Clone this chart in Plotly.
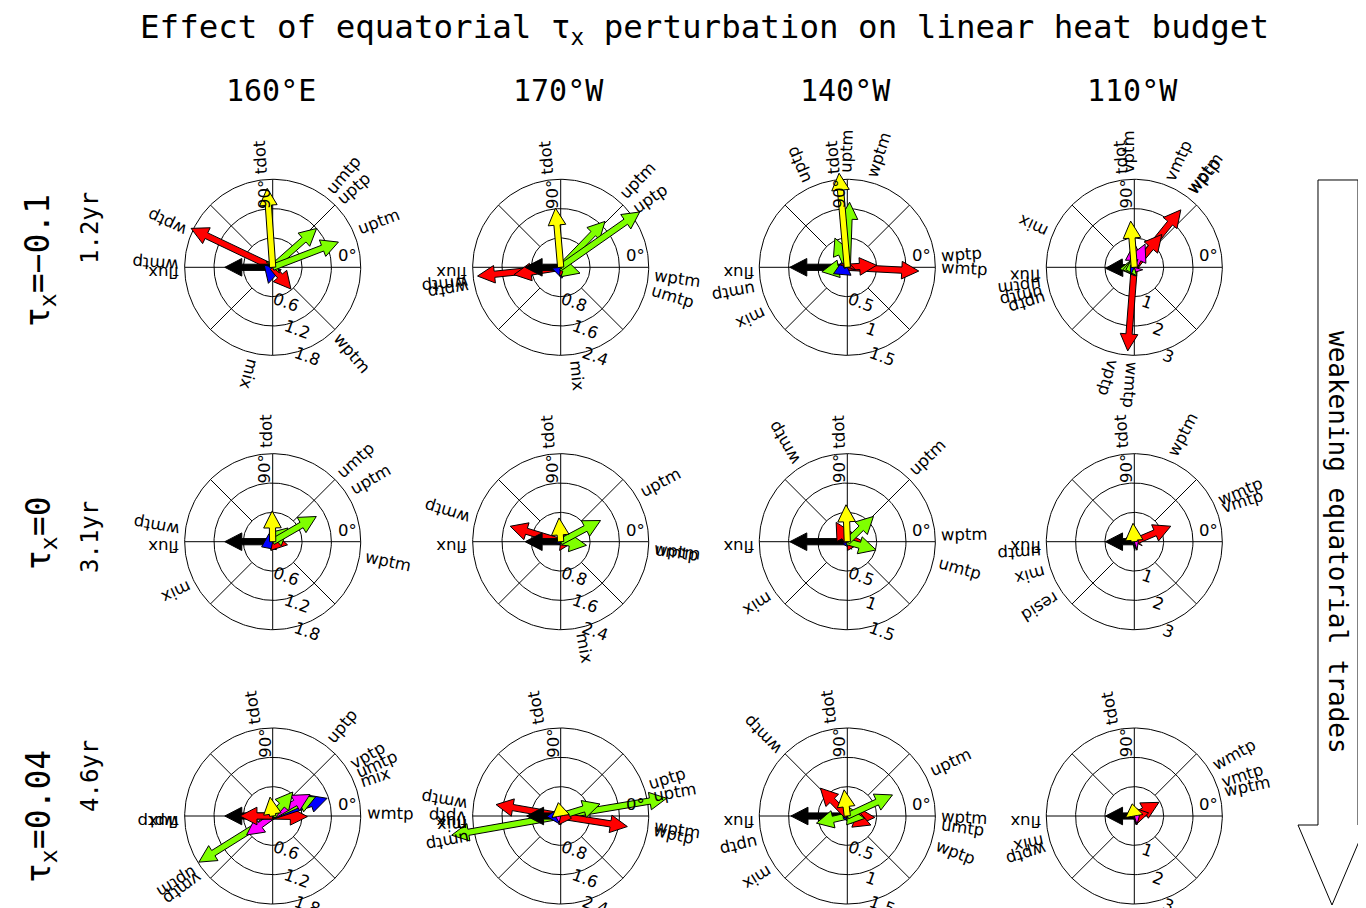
import numpy as np
import plotly.graph_objects as go

W, H = 1366, 908          # page size
OFF = 8                   # default body margin of the html page
FW, FH = W - OFF, H - OFF # figure size so that it ends at the page edge
FONT_BIG = "DejaVu Sans Mono"
FONT_LAB = "DejaVu Sans"

# ---------------- text ----------------
title_text = "Effect of equatorial τ<sub>x</sub> perturbation on linear heat budget"
col_labels = ["160°E", "170°W", "140°W", "110°W"]
row_tau = ["τ<sub>x</sub>=−0.1", "τ<sub>x</sub>=0", "τ<sub>x</sub>=0.04"]
row_period = ["1.2yr", "3.1yr", "4.6yr"]
side_text = "weakening equatorial trades"

# radial ticks per column (outer ring = last tick)
col_ticks = [[0.6, 1.2, 1.8], [0.8, 1.6, 2.4], [0.5, 1, 1.5], [1, 2, 3]]

# ---------------- data: (term, magnitude, angle in degrees) ----------------
r1c1 = [("wptp", 1.85, 154.5), ("flux", 0.98, 180), ("wmtp", 0.08, 176), ("mix", 0.34, 255),
        ("wptm", 0.58, 310), ("umtp", 0.10, 50), ("uptp", 1.20, 41.5), ("uptm", 1.44, 21),
        ("tdot", 1.62, 94)]
r1c2 = [("wmtp", 2.28, 186), ("wptp", 1.29, 189), ("flux", 0.97, 180), ("mix", 0.30, 276),
        ("wptm", 0.30, 352), ("umtp", 0.55, 343), ("uptm", 1.74, 46), ("uptp", 2.63, 35),
        ("tdot", 1.62, 95)]
r1c3 = [("wmtp", 1.22, 357), ("wptp", 0.50, 4), ("flux", 0.98, 180), ("umtp", 0.44, 190),
        ("mix", 0.26, 205), ("uptp", 0.54, 113), ("wptm", 0.08, 72), ("uptm", 1.11, 88),
        ("tdot", 1.61, 95)]
r1c4 = [("wmtp", 2.86, 265.5), ("wptm", 2.52, 51), ("wptp", 1.46, 50), ("vptm", 0.82, 90),
        ("vmtp", 0.87, 65), ("vptp", 0.20, 254), ("flux", 0.98, 182), ("uptm", 0.50, 187),
        ("umtp", 0.40, 192), ("uptp", 0.30, 196), ("mix", 0.15, 155), ("tdot", 1.58, 94.5)]
r2c1 = [("flux", 0.98, 180), ("wmtp", 0.10, 170), ("mix", 0.25, 205), ("wptm", 0.31, 348),
        ("umtp", 0.42, 42), ("uptm", 1.03, 30), ("tdot", 0.63, 91)]
r2c2 = [("wmtp", 1.44, 163), ("flux", 0.97, 180), ("mix", 0.06, 280), ("wptm", 0.30, 353),
        ("umtp", 0.71, 352), ("uptm", 1.23, 28), ("tdot", 0.65, 94)]
r2c3 = [("flux", 0.98, 180), ("mix", 0.08, 212), ("wmtp", 0.38, 120), ("wptm", 0.27, 1),
        ("umtp", 0.51, 344), ("uptm", 0.62, 44), ("tdot", 0.63, 92)]
r2c4 = [("flux", 0.98, 180), ("umtp", 0.06, 183), ("mix", 0.05, 195), ("resid", 0.0, 212),
        ("wptm", 0.10, 63), ("wmtp", 1.35, 23), ("vmtp", 0.15, 18), ("tdot", 0.63, 94)]
r3c1 = [("uptm", 1.78, 212), ("vmtp", 0.66, 216), ("flux", 0.98, 180), ("wptp", 0.67, 180),
        ("wmtp", 0.71, 359), ("mix", 1.17, 18), ("umtp", 0.96, 24), ("vptp", 0.88, 30),
        ("uptp", 0.64, 50), ("tdot", 0.39, 98)]
r3c2 = [("umtp", 3.02, 190), ("uptm", 2.93, 9.5), ("wptm", 1.84, 351), ("wmtp", 1.79, 170),
        ("uptp", 1.12, 17), ("flux", 0.93, 180), ("mix", 0.38, 182), ("vptp", 0.15, 178),
        ("wptp", 0.30, 348), ("tdot", 0.37, 100)]
r3c3 = [("flux", 0.96, 180), ("uptp", 0.54, 193), ("mix", 0.08, 212), ("wmtp", 0.66, 134),
        ("wptm", 0.47, 357), ("wptp", 0.43, 339), ("umtp", 0.30, 352), ("uptm", 0.85, 25),
        ("tdot", 0.45, 97)]
r3c4 = [("flux", 0.98, 180), ("mix", 0.05, 192), ("wptp", 0.05, 197), ("wmtp", 0.96, 29),
        ("wptm", 0.50, 12), ("vmtp", 0.20, 18), ("tdot", 0.42, 100)]

panels = [[r1c1, r1c2, r1c3, r1c4],
          [r2c1, r2c2, r2c3, r2c4],
          [r3c1, r3c2, r3c3, r3c4]]


def term_color(term):
    if term == "tdot":
        return "#FFFF00"
    if term == "flux":
        return "#000000"
    if term == "mix":
        return "#0000FF"
    if term.startswith("u"):
        return "#7FFF00"
    if term.startswith("w"):
        return "#FF0000"
    if term.startswith("v"):
        return "#FF00FF"
    return "#808080"


# DejaVu Sans advance widths (em) for label placement
CHW = {"t": 0.392, "d": 0.635, "o": 0.612, "u": 0.634, "p": 0.635, "m": 0.974, "w": 0.818,
       "v": 0.592, "f": 0.352, "l": 0.278, "x": 0.592, "i": 0.278, "r": 0.411, "e": 0.615,
       "s": 0.521}

# ---------------- layout geometry (page pixels) ----------------
col_cx = [272.7, 560.7, 847.3, 1134.3]
row_cy = [267.3, 541.7, 816.0]
RPX = 88.0      # outer ring radius in px
HALF = 143.0    # half size of each panel box in px
LFS = 16.5      # label font size


def fx(X):
    return (X - OFF) / FW


def fy(Y):
    return 1 - (Y - OFF) / FH


fig = go.Figure()
annotations = []
layout_axes = {}

k = 0
for i in range(3):
    for j in range(4):
        k += 1
        ticks = col_ticks[j]
        rmax = ticks[-1]
        s = RPX / rmax
        cx, cy = col_cx[j], row_cy[i]
        x0, x1 = max(OFF, cx - HALF), min(W, cx + HALF)
        y0, y1 = max(OFF, cy - HALF), min(H, cy + HALF)
        xn = "xaxis" if k == 1 else f"xaxis{k}"
        yn = "yaxis" if k == 1 else f"yaxis{k}"
        xr, yr = ("x", "y") if k == 1 else (f"x{k}", f"y{k}")
        layout_axes[xn] = dict(domain=[fx(x0), fx(x1)], range=[(x0 - cx) / s, (x1 - cx) / s],
                               visible=False, fixedrange=True, anchor=yr)
        layout_axes[yn] = dict(domain=[fy(y1), fy(y0)], range=[(cy - y1) / s, (cy - y0) / s],
                               visible=False, fixedrange=True, anchor=xr)

        # grid: rings, axes lines, diagonals
        t = np.linspace(0, 2 * np.pi, 241)
        gx, gy = [], []
        for r in ticks:
            gx += list(r * np.cos(t)) + [None]
            gy += list(r * np.sin(t)) + [None]
        gx += [-rmax, rmax, None, 0, 0, None]
        gy += [0, 0, None, -rmax, rmax, None]
        for a in (45, 135, 225, 315):
            ca, sa = np.cos(np.radians(a)), np.sin(np.radians(a))
            gx += [ticks[0] * ca, rmax * ca, None]
            gy += [ticks[0] * sa, rmax * sa, None]
        fig.add_trace(go.Scatter(x=gx, y=gy, mode="lines", line=dict(color="black", width=1),
                                 xaxis=xr, yaxis=yr, hoverinfo="skip", showlegend=False))

        # arrows
        for term, mag, ang in panels[i][j]:
            L = mag * s
            if L < 0.5:
                continue
            th = np.radians(ang)
            u = np.array([np.cos(th), np.sin(th)])
            n = np.array([-np.sin(th), np.cos(th)])
            hl = min(17.0, L)
            hw, sw = 8.8, 3.1
            b = (L - hl) * u
            pts = [sw * n, b + sw * n, b + hw * n, L * u, b - hw * n, b - sw * n, -sw * n, sw * n]
            fig.add_trace(go.Scatter(x=[p[0] / s for p in pts], y=[p[1] / s for p in pts],
                                     mode="lines", fill="toself",
                                     fillcolor=term_color(term), line=dict(color="black", width=1),
                                     xaxis=xr, yaxis=yr, hoverinfo="skip", showlegend=False))

        # term labels (radial, outside the outer ring)
        for term, mag, ang in panels[i][j]:
            th = np.radians(ang)
            w = LFS * sum(CHW.get(c, 0.6) for c in term)
            rc = RPX + 6 + w / 2
            off = 0.30 * LFS
            px_ = rc * np.cos(th) - off * np.sin(th)
            py_ = rc * np.sin(th) + off * np.cos(th)
            ta = -ang
            while ta <= -180:
                ta += 360
            while ta > 180:
                ta -= 360
            annotations.append(dict(x=px_ / s, y=py_ / s, xref=xr, yref=yr, text=term,
                                    showarrow=False, textangle=ta, xanchor="center", yanchor="middle",
                                    font=dict(family=FONT_LAB, size=LFS, color="black")))

        # angle tick labels
        annotations.append(dict(x=(RPX - 2) / s, y=0 / s, xref=xr, yref=yr, text="0°",
                                showarrow=False, xanchor="right", yanchor="bottom",
                                font=dict(family=FONT_LAB, size=LFS, color="black")))
        annotations.append(dict(x=-8 / s, y=73 / s, xref=xr, yref=yr, text="90°",
                                showarrow=False, textangle=-90, xanchor="center", yanchor="middle",
                                font=dict(family=FONT_LAB, size=LFS, color="black")))
        # radial tick labels
        for r in ticks:
            rp = r * s + 8
            th = np.radians(-69)
            annotations.append(dict(x=rp * np.cos(th) / s, y=rp * np.sin(th) / s, xref=xr, yref=yr,
                                    text=f"{r:g}", showarrow=False, textangle=20,
                                    xanchor="center", yanchor="middle",
                                    font=dict(family=FONT_LAB, size=LFS, color="black")))


def add_page_text(X, Y, text, size, angle=0):
    annotations.append(dict(x=fx(X), y=fy(Y), xref="paper", yref="paper", text=text,
                            showarrow=False, textangle=angle, xanchor="center", yanchor="middle",
                            font=dict(family=FONT_BIG, size=size, color="black")))


# title and headers
add_page_text(705, 29, title_text, 32.5)
for j, lab in enumerate(col_labels):
    add_page_text(col_cx[j] - 2, 90, lab, 30)
tau_y = [261, 533, 817]
per_y = [228, 537, 776]
for i in range(3):
    add_page_text(40, tau_y[i], row_tau[i], 33, -90)
    add_page_text(90, per_y[i], row_period[i], 24, -90)
add_page_text(1338, 542, side_text, 26, 90)

# big hollow arrow on the right (decoration, page pixels)
arrow_px = [(1318, 180), (1358, 180), (1358, 825), (1366, 825), (1332, 905), (1298, 825), (1318, 825)]
path = "M " + " L ".join(f"{fx(x):.5f},{fy(y):.5f}" for x, y in arrow_px) + " Z"
shapes = [dict(type="path", xref="paper", yref="paper", path=path,
               line=dict(color="black", width=1), fillcolor="rgba(0,0,0,0)")]

fig.update_layout(width=FW, height=FH, autosize=False, margin=dict(l=0, r=0, t=0, b=0),
                  paper_bgcolor="white", plot_bgcolor="rgba(0,0,0,0)", showlegend=False,
                  annotations=annotations, shapes=shapes, **layout_axes)

fig.write_html("out.html")
